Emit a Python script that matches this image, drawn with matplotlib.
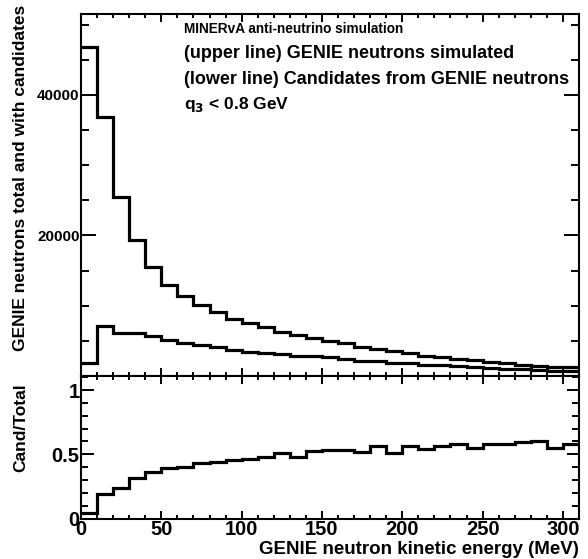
import numpy as np
import matplotlib
matplotlib.use('Agg')
import matplotlib.pyplot as plt
from matplotlib.ticker import MultipleLocator

plt.rcParams['font.family'] = ['Liberation Sans', 'DejaVu Sans']
plt.rcParams['font.weight'] = 'bold'

# bin edges of neutron kinetic energy (MeV)
edges = np.arange(0, 320, 10)

# GENIE neutrons simulated (upper line)
total = [46800, 36900, 25500, 19400, 15500, 13000, 11400, 10070, 9120, 8180,
         7470, 6900, 6290, 5860, 5450, 5010, 4640, 4160, 3830, 3590,
         3260, 2880, 2650, 2450, 2270, 2030, 1800, 1560, 1460, 1320, 1230]

# candidates from GENIE neutrons (lower line)
cand = [1870, 7100, 6050, 6150, 5650, 5130, 4640, 4350, 4060, 3740,
        3480, 3300, 3200, 2820, 2850, 2660, 2460, 2150, 2170, 1850,
        1830, 1560, 1500, 1420, 1250, 1180, 1050, 930, 880, 730, 715]

# Cand/Total
ratio = [0.04, 0.19, 0.235, 0.316, 0.362, 0.393, 0.405, 0.43, 0.444, 0.457,
         0.465, 0.478, 0.508, 0.48, 0.522, 0.53, 0.53, 0.517, 0.566, 0.514,
         0.561, 0.54, 0.566, 0.58, 0.548, 0.582, 0.582, 0.595, 0.605, 0.553, 0.58]

W, H = 588, 559
fig = plt.figure(figsize=(W / 100, H / 100), dpi=100)

left = 81 / W
width = (579 - 81) / W
ax1 = fig.add_axes([left, 1 - 376 / H, width, (376 - 14) / H])
ax2 = fig.add_axes([left, 1 - 518.5 / H, width, (518.5 - 376) / H])

lw = 2.3
ax1.stairs(total, edges, baseline=None, color='black', linewidth=lw)
ax1.stairs(cand, edges, baseline=None, color='black', linewidth=lw)
ax2.stairs(ratio, edges, baseline=None, color='black', linewidth=lw)

for ax in (ax1, ax2):
    ax.set_xlim(0, 310)
    for s in ax.spines.values():
        s.set_linewidth(1.5)
    ax.xaxis.set_major_locator(MultipleLocator(50))
    ax.xaxis.set_minor_locator(MultipleLocator(10))
    ax.tick_params(which='both', direction='in', top=True, right=True, width=1.4)

ax1.set_ylim(0, 51500)
ax1.set_yticks([20000, 40000])
ax1.yaxis.set_minor_locator(MultipleLocator(5000))
ax1.tick_params(axis='x', which='major', length=6)
ax1.tick_params(axis='x', which='minor', length=3)
ax1.tick_params(axis='y', which='major', length=11)
ax1.tick_params(axis='y', which='minor', length=6)
ax1.tick_params(axis='x', labelbottom=False)
ax1.tick_params(axis='y', labelsize=11, pad=1)
ax1.set_ylabel('GENIE neutrons total and with candidates', fontsize=12.5,
               fontweight='bold')
ax1.yaxis.set_label_coords(-0.106, 1.025)
ax1.yaxis.label.set_horizontalalignment('right')

ax2.set_ylim(0, 1.11)
ax2.set_yticks([0, 0.5, 1])
ax2.set_yticklabels(['0', '0.5', '1'])
ax2.yaxis.set_minor_locator(MultipleLocator(0.1))
ax2.tick_params(axis='x', which='major', length=6)
ax2.tick_params(axis='x', which='minor', length=3)
ax2.tick_params(axis='y', which='major', length=9)
ax2.tick_params(axis='y', which='minor', length=5)
ax2.tick_params(axis='both', labelsize=14.5, pad=1)
ax2.set_xlabel('GENIE neutron kinetic energy (MeV)', fontsize=13.5,
               fontweight='bold')
ax2.xaxis.set_label_coords(1.0, -0.155)
ax2.xaxis.label.set_horizontalalignment('right')
ax2.set_ylabel('Cand/Total', fontsize=12.5, fontweight='bold')
ax2.yaxis.set_label_coords(-0.106, 0.95)
ax2.yaxis.label.set_horizontalalignment('right')

tx = 184 / W
fig.text(tx, 1 - 29 / H, 'MINERvA anti-neutrino simulation', fontsize=9.8,
         fontweight='bold', va='center')
fig.text(tx, 1 - 53 / H, '(upper line) GENIE neutrons simulated', fontsize=13,
         fontweight='bold', va='center')
fig.text(tx, 1 - 80 / H, '(lower line) Candidates from GENIE neutrons',
         fontsize=13, fontweight='bold', va='center')
fig.text(tx, 1 - 104 / H, r'q$_{\mathbf{3}}$ < 0.8 GeV', fontsize=12.5,
         fontweight='bold', va='center')

fig.savefig('out.png', dpi=100)
